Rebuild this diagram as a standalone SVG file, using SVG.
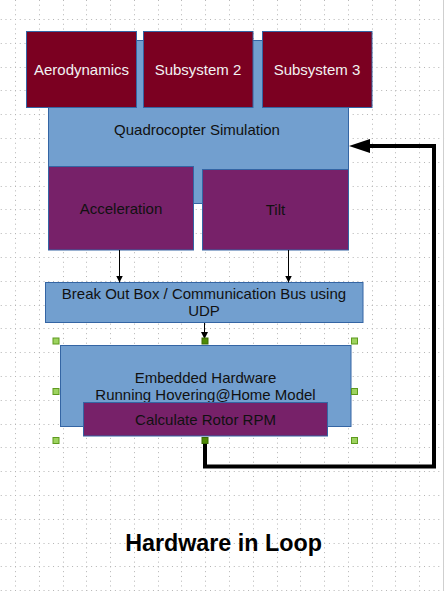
<svg xmlns="http://www.w3.org/2000/svg" width="445" height="591" viewBox="0 0 445 591">
<defs>
<style>
.blue{fill:#729fcf;stroke:#3465a4;stroke-width:1}
.red{fill:#7b0021;stroke:#3465a4;stroke-width:1}
.purple{fill:#772169;stroke:#3465a4;stroke-width:1}
.t{font-family:"Liberation Sans",Arial,sans-serif;font-size:15px;text-anchor:middle;fill:#111}
.tw{font-family:"Liberation Sans",Arial,sans-serif;font-size:15px;text-anchor:middle;fill:#f2f2f2}
.title{font-family:"Liberation Sans",Arial,sans-serif;font-size:23.3px;font-weight:bold;text-anchor:middle;fill:#000}
.thin{stroke:#000;stroke-width:1;fill:none}
.thick{stroke:#000;stroke-width:4;fill:none;stroke-linejoin:miter}
.h{fill:#9dd35f;stroke:#5e9a1e;stroke-width:1}
.hd{fill:#4e8a06;stroke:#3b6a04;stroke-width:1}
.gh{stroke:#b4b4b4;stroke-width:1;stroke-dasharray:1 3.756;fill:none}
.gv{stroke:#b4b4b4;stroke-width:1;stroke-dasharray:1 3.76;fill:none}
</style>
<marker id="ah" markerWidth="8" markerHeight="8" refX="7" refY="4" orient="auto" markerUnits="userSpaceOnUse">
<path d="M0,0.5 L7,4 L0,7.5 Z" fill="#000"/>
</marker>
</defs>
<rect x="0" y="0" width="445" height="591" fill="#fff"/>
<g id="grid">
<path class="gh" d="M-4.02 19.5H445M-4.02 43.5H445M-4.02 67.5H445M-4.02 90.5H445M-4.02 114.5H445M-4.02 138.5H445M-4.02 162.5H445M-4.02 186.5H445M-4.02 209.5H445M-4.02 233.5H445M-4.02 257.5H445M-4.02 281.5H445M-4.02 305.5H445M-4.02 328.5H445M-4.02 352.5H445M-4.02 376.5H445M-4.02 400.5H445M-4.02 424.5H445M-4.02 447.5H445M-4.02 471.5H445M-4.02 495.5H445M-4.02 519.5H445M-4.02 543.5H445M-4.02 566.5H445M-4.02 590.5H445"/>
<path class="gv" d="M15.5 -0.04V591M39.5 -0.04V591M63.5 -0.04V591M86.5 -0.04V591M110.5 -0.04V591M134.5 -0.04V591M158.5 -0.04V591M181.5 -0.04V591M205.5 -0.04V591M229.5 -0.04V591M253.5 -0.04V591M277.5 -0.04V591M300.5 -0.04V591M324.5 -0.04V591M348.5 -0.04V591M372.5 -0.04V591M395.5 -0.04V591M419.5 -0.04V591"/>
</g>
<line x1="443.5" y1="0" x2="443.5" y2="591" stroke="#cfcfcf" stroke-width="1"/>

<g id="quadrocopter-simulation">
<rect class="blue" x="48.5" y="40.5" width="300" height="163"/>
<text class="t" x="197" y="135">Quadrocopter Simulation</text>
</g>
<g id="aerodynamics">
<rect class="red" x="26.5" y="31.5" width="110" height="76"/>
<text class="tw" x="81.5" y="75">Aerodynamics</text>
</g>
<g id="subsystem-2">
<rect class="red" x="143.5" y="31.5" width="109.5" height="76"/>
<text class="tw" x="198" y="75">Subsystem 2</text>
</g>
<g id="subsystem-3">
<rect class="red" x="262.5" y="31.5" width="109.5" height="76"/>
<text class="tw" x="317" y="75">Subsystem 3</text>
</g>
<g id="acceleration">
<rect class="purple" x="48.5" y="166.5" width="145" height="83.5"/>
<text class="t" x="121" y="214">Acceleration</text>
</g>
<g id="tilt">
<rect class="purple" x="202.5" y="169.5" width="146" height="80.5"/>
<text class="t" x="275.5" y="215">Tilt</text>
</g>
<g id="break-out-box">
<rect class="blue" x="45.5" y="282.5" width="317.5" height="40"/>
<text class="t" x="204" y="298.5">Break Out Box / Communication Bus using</text>
<text class="t" x="204" y="315.5">UDP</text>
</g>
<g id="embedded-hardware">
<rect class="blue" x="60.5" y="345.5" width="290.5" height="81"/>
<text class="t" x="205.5" y="383">Embedded Hardware</text>
<text class="t" x="205.5" y="399.5">Running Hovering@Home Model</text>
</g>
<g id="calculate-rotor-rpm">
<rect class="purple" x="83.5" y="402.5" width="244" height="33.5"/>
<text class="t" x="205.5" y="425">Calculate Rotor RPM</text>
</g>

<g id="connectors">
<line class="thin" x1="119.5" y1="250" x2="119.5" y2="282.5" marker-end="url(#ah)"/>
<line class="thin" x1="288.5" y1="250" x2="288.5" y2="282.5" marker-end="url(#ah)"/>
<line class="thin" x1="204.5" y1="323" x2="204.5" y2="339" marker-end="url(#ah)"/>
<path class="thick" d="M205 440 V466.5 H434 V146 H368"/>
<polygon points="349,146 370,139 370,153" fill="#000"/>
</g>

<g id="selection-handles">
<rect class="h" x="53" y="338" width="6" height="6"/>
<rect class="hd" x="202" y="338" width="6" height="6"/>
<rect class="h" x="351.5" y="338" width="6" height="6"/>
<rect class="h" x="53" y="388.5" width="6" height="6"/>
<rect class="h" x="351.5" y="388.5" width="6" height="6"/>
<rect class="h" x="53" y="437.5" width="6" height="6"/>
<rect class="hd" x="202" y="437.5" width="6" height="6"/>
<rect class="h" x="351.5" y="437.5" width="6" height="6"/>
</g>

<g id="title">
<text class="title" x="223.5" y="551">Hardware in Loop</text>
</g>
</svg>
